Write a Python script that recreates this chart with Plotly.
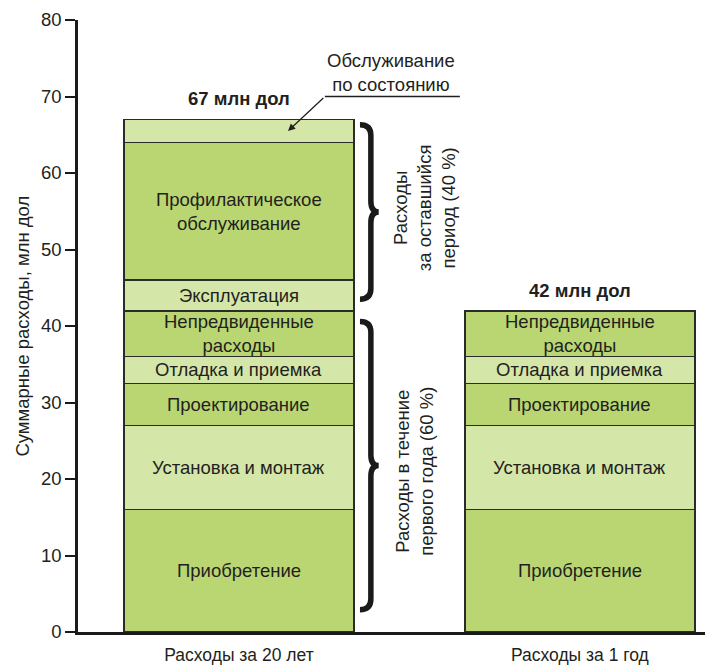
import plotly.graph_objects as go

# Cost breakdown: total cost over 20 years vs. first-year cost (млн дол)
categories = ["Расходы за 20 лет", "Расходы за 1 год"]
segments = [
    "Приобретение",
    "Установка и монтаж",
    "Проектирование",
    "Отладка и приемка",
    "Непредвиденные<br>расходы",
    "Эксплуатация",
    "Профилактическое<br>обслуживание",
    "Обслуживание по состоянию",
]
values_20yr = [16, 11, 5.5, 3.5, 6, 4, 18, 3]
values_1yr = [16, 11, 5.5, 3.5, 6, None, None, None]
show_inside_label = [True, True, True, True, True, True, True, False]
total_labels = ["67 млн дол", "42 млн дол"]
first_year_count = 5  # segments that make up the first-year cost

DARK = "#b9d672"
LIGHT = "#d5e6a9"
fills = [DARK, LIGHT, DARK, LIGHT, DARK, LIGHT, DARK, LIGHT]

FONT = "Liberation Sans, Arial, sans-serif"
INK = "#231f20"
TXT = 18.5
xpos = [0, 1]
BAR_W = 0.675

fig = go.Figure()
for i, name in enumerate(segments):
    fig.add_bar(
        x=xpos,
        y=[values_20yr[i], values_1yr[i]],
        width=BAR_W,
        name=name,
        marker=dict(color=fills[i], line=dict(color="#2b2b2b", width=1.6)),
        showlegend=False,
        hoverinfo="skip",
    )

annotations = []
# labels in the middle of each segment
for col, series in enumerate([values_20yr, values_1yr]):
    base = 0
    for i, v in enumerate(series):
        if v is None:
            continue
        if show_inside_label[i]:
            annotations.append(dict(
                x=xpos[col], y=base + v / 2, text=segments[i], showarrow=False,
                font=dict(size=TXT, color=INK, family=FONT), xref="x", yref="y",
            ))
        base += v

# totals above bars
totals = [sum(v for v in s if v is not None) for s in (values_20yr, values_1yr)]
for col, lab in enumerate(total_labels):
    annotations.append(dict(
        x=xpos[col], y=totals[col], text="<b>" + lab + "</b>", showarrow=False,
        yanchor="bottom", yshift=8, font=dict(size=TXT, color=INK, family=FONT),
    ))

first_year = sum(values_20yr[:first_year_count])

# callout for the top segment
callout_y = totals[0] + 3
annotations.append(dict(
    x=0.445, y=callout_y, yanchor="bottom", yshift=0,
    text="Обслуживание<br>по состоянию", showarrow=False,
    font=dict(size=TXT, color=INK, family=FONT),
))
annotations.append(dict(
    x=0.144, y=totals[0] - 1.5, ax=0.252, ay=callout_y, axref="x", ayref="y",
    text="", showarrow=True, arrowhead=2, arrowsize=1.1, arrowwidth=1.3,
    arrowcolor=INK,
))

# rotated brace captions
annotations.append(dict(
    x=0.545, y=(first_year + totals[0]) / 2 + 1, textangle=-90,
    text="Расходы<br>за оставшийся<br>период (40 %)", showarrow=False,
    font=dict(size=TXT, color=INK, family=FONT),
))
annotations.append(dict(
    x=0.515, y=first_year / 2, textangle=-90,
    text="Расходы в течение<br>первого года (60 %)", showarrow=False,
    font=dict(size=TXT, color=INK, family=FONT),
))

# y-axis title
annotations.append(dict(
    xref="paper", yref="paper", x=-0.09, y=0.5, xanchor="center",
    yanchor="middle", textangle=-90,
    text="Суммарные расходы, млн дол", showarrow=False,
    font=dict(size=TXT, color=INK, family=FONT),
))


def brace(y0, y1, xe=0.355, xs=0.387, xt=0.41, r=1.4):
    ym = (y0 + y1) / 2
    return (
        f"M {xe},{y1} Q {xs},{y1} {xs},{y1 - r} "
        f"L {xs},{ym + r} Q {xs},{ym} {xt},{ym} "
        f"Q {xs},{ym} {xs},{ym - r} "
        f"L {xs},{y0 + r} Q {xs},{y0} {xe},{y0}"
    )


shapes = [
    dict(type="path", path=brace(first_year + 1.5, totals[0] - 0.7),
         xref="x", yref="y", line=dict(color="#1a1a1a", width=5.5)),
    dict(type="path", path=brace(2.9, first_year - 1.4),
         xref="x", yref="y", line=dict(color="#1a1a1a", width=5.5)),
    dict(type="line", x0=0.252, x1=0.648, y0=callout_y, y1=callout_y,
         xref="x", yref="y", line=dict(color=INK, width=1.3)),
]

fig.update_layout(
    width=705, height=665,
    margin=dict(l=78, r=0, t=20, b=31),
    barmode="stack",
    plot_bgcolor="white", paper_bgcolor="white",
    font=dict(family=FONT, color=INK),
    annotations=annotations,
    shapes=shapes,
    xaxis=dict(
        range=[-0.472, 1.367], tickvals=xpos, ticktext=categories,
        showline=True, linewidth=2.5, linecolor="#1a1a1a",
        ticks="outside", ticklen=5, tickcolor="rgba(0,0,0,0)",
        tickfont=dict(size=17.5, color=INK), showgrid=False, zeroline=False,
    ),
    yaxis=dict(
        range=[0, 80], dtick=10, showline=True, linewidth=2.5,
        linecolor="#1a1a1a", ticks="outside", ticklen=10, tickwidth=2,
        tickcolor="#1a1a1a", tickfont=dict(size=18.5, color=INK),
        showgrid=False, zeroline=False,
    ),
)

fig.write_html("out.html")
